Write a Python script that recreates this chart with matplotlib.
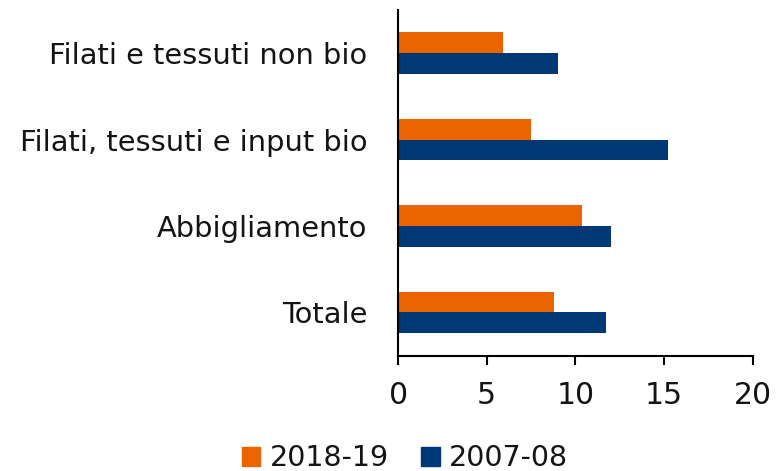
import numpy as np
from matplotlib import pyplot as plt
from matplotlib.patches import Patch

categories = ["Filati e tessuti non bio", "Filati, tessuti e input bio", "Abbigliamento", "Totale"]
val_2018 = [5.9, 7.5, 10.4, 8.8]
val_2007 = [9.0, 15.2, 12.0, 11.7]

orange = "#EB6400"
blue = "#003876"

plt.rcParams['font.family'] = 'DejaVu Sans'

fig = plt.figure(figsize=(7.76, 4.71), dpi=100)
ax = fig.add_axes([0.513, 0.2448, 0.457, 0.734])

y = np.arange(len(categories))
h = 0.24
ax.barh(y - h / 2, val_2018, height=h, color=orange)
ax.barh(y + h / 2, val_2007, height=h, color=blue)

ax.set_ylim(len(categories) - 0.5, -0.5)
ax.set_xlim(0, 20)
ax.set_xticks([0, 5, 10, 15, 20])
ax.set_yticks(y)
ax.set_yticklabels(categories)

for s in ["top", "right"]:
    ax.spines[s].set_visible(False)
ax.spines["left"].set_linewidth(1.5)
ax.spines["bottom"].set_linewidth(1.5)

ax.tick_params(axis="y", length=0, pad=22, labelsize=20.8, labelcolor="#141414")
ax.tick_params(axis="x", length=6.5, width=1.5, pad=12, labelsize=21.5, labelcolor="#141414")

handles = [Patch(color=orange, label="2018-19"), Patch(color=blue, label="2007-08")]
fig.legend(handles=handles, loc="center", bbox_to_anchor=(0.522, 0.027), ncol=2,
           frameon=False, fontsize=20.5, handlelength=0.65, handleheight=0.65,
           handletextpad=0.32, columnspacing=1.15, borderaxespad=0, borderpad=0,
           labelcolor="#141414")

fig.savefig("out.png", dpi=100)
